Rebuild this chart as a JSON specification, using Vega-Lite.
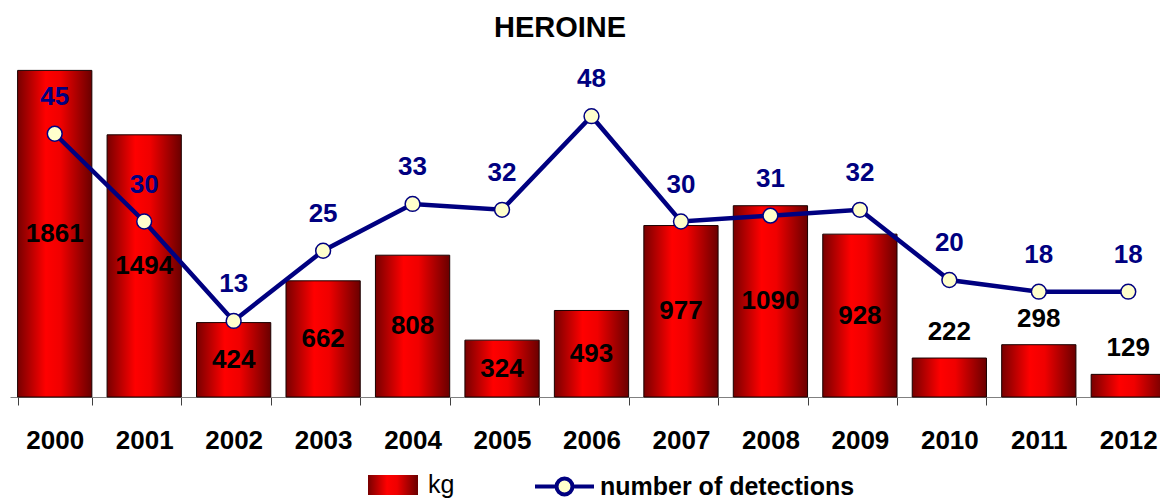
{
  "$schema": "https://vega.github.io/schema/vega-lite/v6.json",
  "width": 1150,
  "height": 351,
  "autosize": {"type": "none"},
  "padding": {"left": 10, "top": 46, "right": 0, "bottom": 102},
  "background": "white",
  "config": {"view": {"stroke": null}, "font": "Liberation Sans"},
  "title": {"text": "HEROINE", "fontSize": 29, "fontWeight": "bold", "font": "Liberation Sans", "color": "black", "anchor": "middle", "frame": "group", "dx": -25, "dy": 29, "baseline": "alphabetic", "offset": 9},
  "data": {"values": [
    {"year": "2000", "kg": 1861, "detections": 45},
    {"year": "2001", "kg": 1494, "detections": 30},
    {"year": "2002", "kg": 424, "detections": 13},
    {"year": "2003", "kg": 662, "detections": 25},
    {"year": "2004", "kg": 808, "detections": 33},
    {"year": "2005", "kg": 324, "detections": 32},
    {"year": "2006", "kg": 493, "detections": 48},
    {"year": "2007", "kg": 977, "detections": 30},
    {"year": "2008", "kg": 1090, "detections": 31},
    {"year": "2009", "kg": 928, "detections": 32},
    {"year": "2010", "kg": 222, "detections": 20},
    {"year": "2011", "kg": 298, "detections": 18},
    {"year": "2012", "kg": 129, "detections": 18}
  ]},
  "encoding": {
    "x": {"field": "year", "type": "nominal",
      "scale": {"type": "band", "range": [0, 1163], "paddingInner": 0.17, "paddingOuter": 0.085},
      "axis": {"title": null, "labelAngle": 0, "tickBand": "extent", "labelFontSize": 26, "labelFontWeight": "bold", "labelFont": "Liberation Sans", "labelColor": "black", "labelBaseline": "alphabetic", "labelPadding": 43, "tickSize": 8, "tickColor": "#404040", "domainColor": "#808080", "domainWidth": 1, "grid": false}}
  },
  "layer": [
    {
      "mark": {"type": "bar", "strokeWidth": 1,
        "color": {"gradient": "linear", "x1": 0, "x2": 1, "y1": 0, "y2": 0,
          "stops": [{"offset": 0, "color": "#780000"}, {"offset": 0.38, "color": "#ff0000"}, {"offset": 0.58, "color": "#f00000"}, {"offset": 1, "color": "#6a0000"}]}},
      "encoding": {
        "y": {"field": "kg", "type": "quantitative", "scale": {"domain": [0, 2000], "nice": false}, "axis": null},
        "stroke": {"datum": "kg", "scale": {"range": ["#1a0000"]},
          "legend": {"orient": "none", "legendX": 358, "legendY": 414, "title": null,
            "symbolType": "M-1,-0.4H1V0.4H-1Z", "symbolSize": 2500, "symbolFillColor": "#d00000", "symbolStrokeWidth": 0,
            "labelFontSize": 25, "labelFontWeight": "normal", "labelFont": "Liberation Sans", "labelColor": "black", "labelOffset": 10, "labelBaseline": "middle", "labelLimit": 400,
            "encode": {"symbols": {"update": {"fill": {"value": {"gradient": "linear", "x1": 0, "x2": 1, "y1": 0, "y2": 0,
              "stops": [{"offset": 0, "color": "#780000"}, {"offset": 0.4, "color": "#ff0000"}, {"offset": 0.6, "color": "#f00000"}, {"offset": 1, "color": "#6a0000"}]}}}}}}}
      }
    },
    {
      "transform": [{"filter": {"not": {"field": "year", "oneOf": ["2010", "2011", "2012"]}}}],
      "mark": {"type": "text", "fontSize": 26, "fontWeight": "bold", "color": "black", "baseline": "middle", "font": "Liberation Sans"},
      "encoding": {
        "y": {"field": "kg", "type": "quantitative", "scale": {"domain": [0, 4000], "nice": false}, "axis": null},
        "text": {"field": "kg", "type": "quantitative"}
      }
    },
    {
      "transform": [{"filter": {"field": "year", "oneOf": ["2010", "2011", "2012"]}}],
      "mark": {"type": "text", "fontSize": 26, "fontWeight": "bold", "color": "black", "baseline": "middle", "dy": -26, "font": "Liberation Sans"},
      "encoding": {
        "y": {"field": "kg", "type": "quantitative", "scale": {"domain": [0, 2000], "nice": false}, "axis": null},
        "text": {"field": "kg", "type": "quantitative"}
      }
    },
    {
      "mark": {"type": "line", "strokeWidth": 4.5},
      "encoding": {
        "y": {"field": "detections", "type": "quantitative", "scale": {"domain": [0, 60], "nice": false}, "axis": null},
        "color": {"datum": "number of detections", "scale": {"range": ["#000080"]},
          "legend": {"orient": "none", "legendX": 523, "legendY": 409, "title": null,
            "symbolType": "M-1,0H-0.27M0.27,0H1M-0.27,0A0.27,0.27 0 1,0 0.27,0A0.27,0.27 0 1,0 -0.27,0Z",
            "symbolSize": 3481, "symbolStrokeWidth": 4, "symbolFillColor": "#FFFFCC", "symbolStrokeColor": "#000080",
            "labelFontSize": 25, "labelFontWeight": "bold", "labelFont": "Liberation Sans", "labelColor": "black", "labelOffset": 4, "labelBaseline": "middle", "labelLimit": 500,
            "encode": {"symbols": {"update": {"fill": {"value": "#FFFFCC"}, "stroke": {"value": "#000080"}, "strokeWidth": {"value": 4}}}}}}
      }
    },
    {
      "mark": {"type": "point", "filled": true, "fill": "#FFFFCC", "stroke": "#000080", "strokeWidth": 1.5, "size": 220, "opacity": 1},
      "encoding": {
        "y": {"field": "detections", "type": "quantitative", "scale": {"domain": [0, 60], "nice": false}, "axis": null}
      }
    },
    {
      "mark": {"type": "text", "fontSize": 26, "fontWeight": "bold", "color": "#000080", "baseline": "middle", "dy": -37, "font": "Liberation Sans"},
      "encoding": {
        "y": {"field": "detections", "type": "quantitative", "scale": {"domain": [0, 60], "nice": false}, "axis": null},
        "text": {"field": "detections", "type": "quantitative"}
      }
    }
  ],
  "resolve": {"scale": {"y": "independent"}}
}
